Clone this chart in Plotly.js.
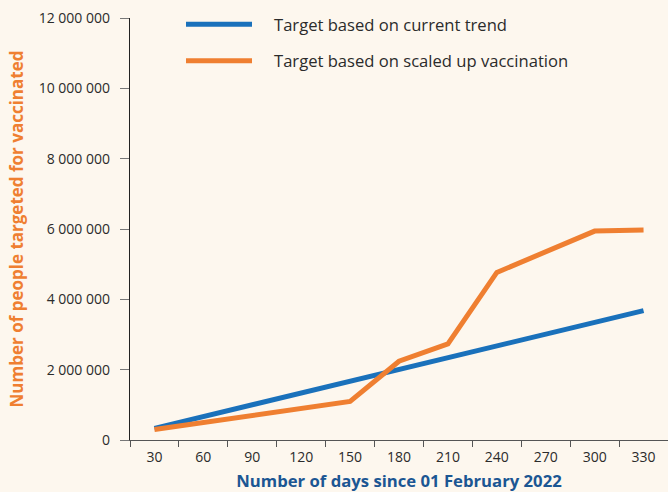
<!DOCTYPE html>
<html>
<head>
<meta charset="utf-8">
<script src="https://cdn.plot.ly/plotly-3.0.1.min.js"></script>
<style>
  html, body { margin: 0; padding: 0; background: #fdf7ee; }
  #chart { width: 668px; height: 492px; }
</style>
</head>
<body>
<div id="chart"></div>
<script>
const days = [30, 60, 90, 120, 150, 180, 210, 240, 270, 300, 330];
const currentTrend = [330000, 665000, 1000000, 1335000, 1670000, 2005000, 2340000, 2680000, 3010000, 3345000, 3680000];
const scaledUp = [300000, 500000, 700000, 900000, 1095000, 2240000, 2735000, 4765000, 5350000, 5940000, 5970000];
const seriesNames = ["Target based on current trend", "Target based on scaled up vaccination"];
const seriesColors = ["#1a71bb", "#ef7f31"];
const yTicks = [0, 2000000, 4000000, 6000000, 8000000, 10000000, 12000000];

const FONT = "'Open Sans', 'DejaVu Sans', sans-serif";

const traces = [
  { x: days, y: currentTrend, name: seriesNames[0], type: "scatter", mode: "lines",
    line: { color: seriesColors[0], width: 5 }, showlegend: false },
  { x: days, y: scaledUp, name: seriesNames[1], type: "scatter", mode: "lines",
    line: { color: seriesColors[1], width: 5 }, showlegend: false }
];

// legend keys (manual, to match long key lines)
const PW = 538, PH = 422, MT = 18, ML = 130;
const px = v => (v - ML) / PW;
const py = v => (MT + PH - v) / PH;
const legendRows = [24.3, 60.7];
const shapes = legendRows.map((yy, i) => ({
  type: "line", xref: "paper", yref: "paper",
  x0: px(186), x1: px(252), y0: py(yy), y1: py(yy),
  line: { color: seriesColors[i], width: 5 }
}));
const annotations = legendRows.map((yy, i) => ({
  xref: "paper", yref: "paper", x: px(272), y: py(yy),
  xanchor: "left", yanchor: "middle", showarrow: false,
  text: seriesNames[i], font: { family: FONT, size: 16.6, color: "#2b2b2b" }
}));

const layout = {
  width: 668, height: 492,
  margin: { l: ML, r: 0, t: MT, b: 492 - MT - PH },
  paper_bgcolor: "#fdf7ee", plot_bgcolor: "#fdf7ee",
  separators: ". ",
  font: { family: FONT, size: 14, color: "#2b2b2b" },
  xaxis: {
    type: "category",
    range: [-0.5, 10.5],
    tickson: "boundaries",
    ticks: "outside", ticklen: 6, tickcolor: "#555", tickwidth: 1,
    ticklabelstandoff: 4,
    showline: true, linecolor: "#555", linewidth: 1.2,
    showgrid: false, zeroline: false,
    tickfont: { family: FONT, size: 14, color: "#2b2b2b" },
    title: { text: "Number of days since 01 February 2022", standoff: 20,
             font: { family: FONT, size: 16.7, color: "#1b5693", weight: "bold" } }
  },
  yaxis: {
    range: [0, 12000000],
    tickvals: yTicks,
    tickformat: ",d",
    ticks: "outside", ticklen: 9, tickcolor: "#777", tickwidth: 1,
    ticklabelstandoff: 7,
    showline: true, linecolor: "#222", linewidth: 1.2,
    showgrid: false, zeroline: false,
    tickfont: { family: FONT, size: 14, color: "#2b2b2b" },
    title: { text: "Number of people targeted for vaccinated", standoff: 10,
             font: { family: FONT, size: 17, color: "#ef7f31", weight: "bold" } }
  },
  shapes: shapes,
  annotations: annotations,
  showlegend: false
};

Plotly.newPlot("chart", traces, layout, { displayModeBar: false, staticPlot: true });
</script>
</body>
</html>
